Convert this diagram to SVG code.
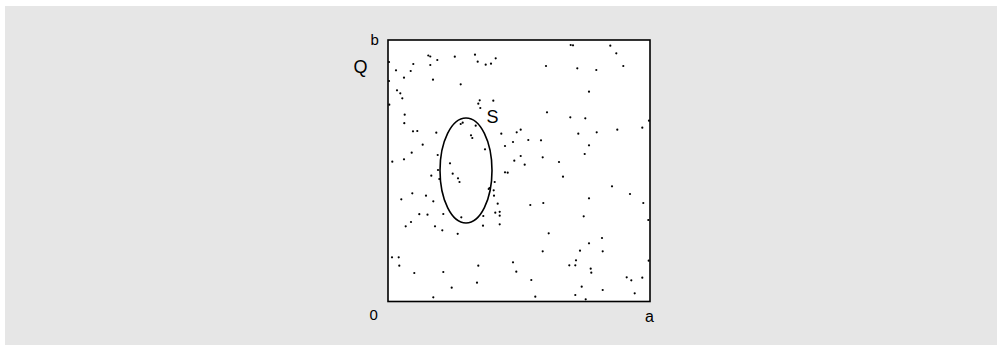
<svg xmlns="http://www.w3.org/2000/svg" width="997" height="345" viewBox="0 0 997 345">
<style>
.lbl{font-family:"Liberation Sans",Arial,sans-serif;fill:#000}
.d{fill:#000}
</style>
<rect x="0" y="0" width="997" height="345" fill="#fff"/>
<rect x="5" y="6" width="992" height="339" fill="#e6e6e6"/>
<g id="plot">
<rect x="388" y="40" width="262" height="261.5" fill="#fff" stroke="#000" stroke-width="1.6"/>
</g>
<g id="region-S">
<ellipse cx="466" cy="170.5" rx="26" ry="52.5" fill="none" stroke="#000" stroke-width="1.6"/>
</g>
<g id="points" class="d">
<circle cx="428.3" cy="55.5" r="1.1"/><circle cx="430.3" cy="56.5" r="1.1"/><circle cx="454.8" cy="56.7" r="1.1"/>
<circle cx="437.3" cy="60" r="1.1"/><circle cx="389" cy="62" r="1.1"/><circle cx="413.3" cy="64" r="1.1"/>
<circle cx="430.3" cy="65" r="1.1"/><circle cx="396" cy="70.3" r="1.1"/><circle cx="410.7" cy="71" r="1.1"/>
<circle cx="404" cy="77.7" r="1.1"/><circle cx="433" cy="79.7" r="1.1"/><circle cx="389" cy="81" r="1.1"/>
<circle cx="397" cy="90.3" r="1.1"/><circle cx="400.3" cy="93.3" r="1.1"/><circle cx="402.3" cy="98.3" r="1.1"/>
<circle cx="389.3" cy="104.7" r="1.1"/><circle cx="404.7" cy="114.7" r="1.1"/><circle cx="404.3" cy="123.2" r="1.1"/>
<circle cx="460.7" cy="84.3" r="1.1"/>
<circle cx="475" cy="54.7" r="1.1"/><circle cx="477.7" cy="61.7" r="1.1"/><circle cx="485.7" cy="64.7" r="1.1"/>
<circle cx="491" cy="63.7" r="1.1"/><circle cx="495.7" cy="58.3" r="1.1"/><circle cx="546" cy="66" r="1.1"/>
<circle cx="479.7" cy="100.3" r="1.1"/><circle cx="478.3" cy="103.7" r="1.1"/><circle cx="493.3" cy="100.7" r="1.1"/>
<circle cx="480.3" cy="108" r="1.1"/><circle cx="547" cy="112.3" r="1.1"/>
<circle cx="570.7" cy="45" r="1.1"/><circle cx="573" cy="45.3" r="1.1"/><circle cx="610.3" cy="45.7" r="1.1"/>
<circle cx="616.3" cy="53.3" r="1.1"/><circle cx="577.3" cy="68.3" r="1.1"/><circle cx="596.3" cy="70" r="1.1"/>
<circle cx="623.3" cy="66" r="1.1"/><circle cx="589" cy="91.7" r="1.1"/><circle cx="570.3" cy="117.3" r="1.1"/>
<circle cx="585.3" cy="118.3" r="1.1"/><circle cx="649" cy="120.7" r="1.1"/>
<circle cx="413" cy="131.3" r="1.1"/><circle cx="417.3" cy="131" r="1.1"/><circle cx="436.3" cy="132.7" r="1.1"/>
<circle cx="422.7" cy="144.7" r="1.1"/><circle cx="411.7" cy="152.7" r="1.1"/><circle cx="392.3" cy="161.7" r="1.1"/>
<circle cx="404" cy="159.3" r="1.1"/><circle cx="437.7" cy="155" r="1.1"/><circle cx="450" cy="163.3" r="1.1"/>
<circle cx="438" cy="170" r="1.1"/><circle cx="431.3" cy="175.7" r="1.1"/><circle cx="439.3" cy="179" r="1.1"/>
<circle cx="452.7" cy="173.7" r="1.1"/><circle cx="458" cy="178.3" r="1.1"/><circle cx="459.5" cy="182" r="1.1"/>
<circle cx="412.3" cy="193.3" r="1.1"/><circle cx="401.3" cy="199.3" r="1.1"/><circle cx="426" cy="195.7" r="1.1"/>
<circle cx="433.3" cy="201.3" r="1.1"/><circle cx="419.3" cy="214.2" r="1.1"/><circle cx="427.5" cy="214.7" r="1.1"/>
<circle cx="443.3" cy="214" r="1.1"/>
<circle cx="460.7" cy="124" r="1.1"/><circle cx="462.7" cy="122.7" r="1.1"/><circle cx="475.7" cy="125.7" r="1.1"/>
<circle cx="471" cy="135.3" r="1.1"/><circle cx="472.3" cy="138" r="1.1"/><circle cx="501.3" cy="133.7" r="1.1"/>
<circle cx="516.7" cy="132.3" r="1.1"/><circle cx="520.7" cy="129.7" r="1.1"/><circle cx="513" cy="142" r="1.1"/>
<circle cx="505" cy="146" r="1.1"/><circle cx="528.3" cy="140" r="1.1"/><circle cx="541" cy="140.3" r="1.1"/>
<circle cx="485" cy="149.3" r="1.1"/><circle cx="520.7" cy="156" r="1.1"/><circle cx="542.7" cy="157.3" r="1.1"/>
<circle cx="514.3" cy="160.7" r="1.1"/><circle cx="524.7" cy="164.7" r="1.1"/><circle cx="505" cy="172.3" r="1.1"/>
<circle cx="507.7" cy="172.7" r="1.1"/><circle cx="494.7" cy="182" r="1.1"/>
<circle cx="488.7" cy="189" r="1.1"/><circle cx="489.5" cy="188" r="1.1"/><circle cx="493.7" cy="190.3" r="1.1"/>
<circle cx="494" cy="195.7" r="1.1"/><circle cx="497.7" cy="203.7" r="1.1"/><circle cx="530.3" cy="205" r="1.1"/>
<circle cx="543.3" cy="203" r="1.1"/><circle cx="495.3" cy="212.7" r="1.1"/><circle cx="499.7" cy="211.8" r="1.1"/>
<circle cx="642.3" cy="127.7" r="1.1"/><circle cx="617.3" cy="129.7" r="1.1"/><circle cx="596.7" cy="132.3" r="1.1"/>
<circle cx="578.3" cy="133.7" r="1.1"/><circle cx="589" cy="145.3" r="1.1"/><circle cx="584.7" cy="154" r="1.1"/>
<circle cx="559" cy="162" r="1.1"/><circle cx="563" cy="176.7" r="1.1"/><circle cx="612" cy="186.3" r="1.1"/>
<circle cx="630" cy="194" r="1.1"/><circle cx="589" cy="198.3" r="1.1"/><circle cx="643.3" cy="203" r="1.1"/>
<circle cx="411" cy="222" r="1.1"/><circle cx="405.7" cy="226.3" r="1.1"/><circle cx="435" cy="226.3" r="1.1"/>
<circle cx="442.3" cy="230.3" r="1.1"/><circle cx="457.7" cy="233.8" r="1.1"/><circle cx="392" cy="257.3" r="1.1"/>
<circle cx="398.7" cy="257.3" r="1.1"/><circle cx="399.3" cy="265.7" r="1.1"/><circle cx="414.3" cy="273" r="1.1"/>
<circle cx="443.3" cy="272" r="1.1"/><circle cx="451.7" cy="287.7" r="1.1"/><circle cx="433.3" cy="297.3" r="1.1"/>
<circle cx="461.3" cy="217.3" r="1.1"/><circle cx="483.3" cy="216" r="1.1"/><circle cx="499.7" cy="215.7" r="1.1"/>
<circle cx="483" cy="225.7" r="1.1"/><circle cx="499.7" cy="224.3" r="1.1"/><circle cx="548.7" cy="233.3" r="1.1"/>
<circle cx="542.7" cy="251.3" r="1.1"/><circle cx="478.3" cy="265.7" r="1.1"/><circle cx="513" cy="262.3" r="1.1"/>
<circle cx="516.3" cy="271.7" r="1.1"/><circle cx="477" cy="282.7" r="1.1"/><circle cx="531.3" cy="280" r="1.1"/>
<circle cx="535.3" cy="296.7" r="1.1"/>
<circle cx="583.7" cy="216.3" r="1.1"/><circle cx="648.3" cy="220" r="1.1"/><circle cx="602" cy="238" r="1.1"/>
<circle cx="589" cy="243.3" r="1.1"/><circle cx="580" cy="250.7" r="1.1"/><circle cx="602.7" cy="251.3" r="1.1"/>
<circle cx="576" cy="260.3" r="1.1"/><circle cx="569.3" cy="265.3" r="1.1"/><circle cx="575.3" cy="265.3" r="1.1"/>
<circle cx="590.7" cy="268.7" r="1.1"/><circle cx="591.3" cy="272.7" r="1.1"/><circle cx="648.7" cy="260.7" r="1.1"/>
<circle cx="626.7" cy="277.3" r="1.1"/><circle cx="631.3" cy="280.3" r="1.1"/><circle cx="642.3" cy="277.7" r="1.1"/>
<circle cx="581.7" cy="286.7" r="1.1"/><circle cx="602.7" cy="290" r="1.1"/><circle cx="634.7" cy="293.3" r="1.1"/>
<circle cx="575.3" cy="295" r="1.1"/><circle cx="585.7" cy="299.3" r="1.1"/>
</g>
<g id="labels" class="lbl">
<text x="370.5" y="45" font-size="15">b</text>
<text x="353.5" y="72.5" font-size="18">Q</text>
<text x="486.5" y="122.5" font-size="18">S</text>
<text x="369.5" y="320" font-size="15">0</text>
<text x="645" y="322" font-size="16">a</text>
</g>
</svg>
